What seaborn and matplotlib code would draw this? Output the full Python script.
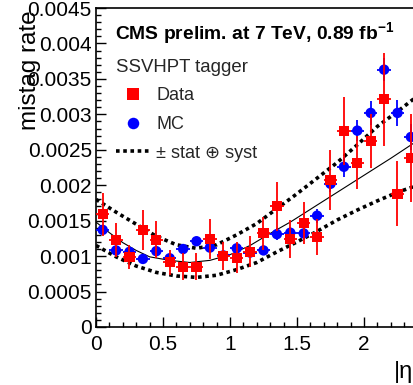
import matplotlib
matplotlib.use("Agg")
import matplotlib.pyplot as plt
from matplotlib.lines import Line2D
from matplotlib.ticker import MultipleLocator
import pandas as pd
import seaborn as sns

# |eta| bin centres (bin width 0.1)
eta = [0.05, 0.15, 0.25, 0.35, 0.45, 0.55, 0.65, 0.75, 0.85, 0.95, 1.05, 1.15,
       1.25, 1.35, 1.45, 1.55, 1.65, 1.75, 1.85, 1.95, 2.05, 2.15, 2.25, 2.35]
eta_halfwidth = 0.05

# measured mistag rate in data
data_rate = [0.00159, 0.00123, 0.00099, 0.00137, 0.00123, 0.00091, 0.00085, 0.00085,
             0.00124, 0.00100, 0.00098, 0.00106, 0.00132, 0.00170, 0.00124, 0.00147,
             0.00127, 0.00207, 0.00277, 0.00232, 0.00263, 0.00321, 0.00188, 0.00239]
data_err = [0.00030, 0.00024, 0.00017, 0.00028, 0.00026, 0.00018, 0.00019, 0.00019,
            0.00028, 0.00020, 0.00022, 0.00022, 0.00023, 0.00034, 0.00027, 0.00030,
            0.00025, 0.00042, 0.00048, 0.00038, 0.00038, 0.00065, 0.00046, 0.00062]

# simulated mistag rate
mc_rate = [0.00137, 0.00108, 0.00106, 0.00096, 0.00107, 0.00097, 0.00110, 0.00121,
           0.00112, 0.00101, 0.00111, 0.00105, 0.00108, 0.00131, 0.00133, 0.00132,
           0.00157, 0.00202, 0.00226, 0.00277, 0.00302, 0.00363, 0.00302, 0.00268]
mc_err = [0.00004, 0.00004, 0.00004, 0.00004, 0.00004, 0.00004, 0.00005, 0.00005,
          0.00005, 0.00005, 0.00005, 0.00006, 0.00007, 0.00008, 0.00008, 0.00009,
          0.00010, 0.00012, 0.00014, 0.00015, 0.00017, 0.00016, 0.00018, 0.00018]

# fitted mistag function
fit_eta = [0.0, 0.1, 0.2, 0.3, 0.4, 0.55, 0.7, 0.85, 1.0, 1.15, 1.3, 1.45, 1.6,
           1.8, 2.0, 2.2, 2.4]
fit_rate = [0.00148, 0.00133, 0.00119, 0.00108, 0.00099, 0.00094, 0.00091, 0.00094,
            0.00102, 0.00115, 0.00132, 0.00148, 0.00166, 0.00190, 0.00214, 0.00238,
            0.00263]

# +/- (stat (+) syst) envelope of the fit
band_eta = [0.0, 0.15, 0.3, 0.45, 0.6, 0.75, 0.9, 1.05, 1.2, 1.35, 1.5, 1.65, 1.8,
            1.95, 2.1, 2.25, 2.4]
band_upper = [0.00180, 0.00162, 0.00145, 0.00128, 0.00116, 0.00111, 0.00116, 0.00130,
              0.00146, 0.00167, 0.00188, 0.00210, 0.00232, 0.00257, 0.00283, 0.00304,
              0.00326]
band_lower = [0.00115, 0.00099, 0.00086, 0.00077, 0.00072, 0.00070, 0.00073, 0.00081,
              0.00091, 0.00106, 0.00120, 0.00135, 0.00151, 0.00165, 0.00178, 0.00190,
              0.00200]

y_ticks = [0, 0.0005, 0.001, 0.0015, 0.002, 0.0025, 0.003, 0.0035, 0.004, 0.0045]
y_tick_labels = ["0", "0.0005", "0.001", "0.0015", "0.002", "0.0025", "0.003",
                 "0.0035", "0.004", "0.0045"]
x_ticks = [0, 0.5, 1, 1.5, 2]
x_tick_labels = ["0", "0.5", "1", "1.5", "2"]

sns.set_theme(style="ticks")
plt.rcParams["font.family"] = ["Liberation Sans", "DejaVu Sans"]
plt.rcParams["mathtext.fontset"] = "custom"
plt.rcParams["mathtext.rm"] = "Liberation Sans"
plt.rcParams["mathtext.bf"] = "Liberation Sans:bold"
plt.rcParams["mathtext.it"] = "Liberation Sans:italic"

df_data = pd.DataFrame({"eta": eta, "rate": data_rate, "err": data_err})
df_mc = pd.DataFrame({"eta": eta, "rate": mc_rate, "err": mc_err})
df_fit = pd.DataFrame({"eta": fit_eta, "rate": fit_rate})
df_band = pd.DataFrame({"eta": band_eta, "up": band_upper, "lo": band_lower})

fig = plt.figure(figsize=(4.14, 3.85), dpi=100)
ax = fig.add_axes([96 / 414, 58 / 385, 321.6 / 414, 319 / 385])

dotted = (0, (1, 1))

# envelope and fit
sns.lineplot(data=df_band, x="eta", y="up", color="black", lw=2.6,
             linestyle=dotted, dash_capstyle="butt", ax=ax, zorder=2)
sns.lineplot(data=df_band, x="eta", y="lo", color="black", lw=2.6,
             linestyle=dotted, dash_capstyle="butt", ax=ax, zorder=2)
sns.lineplot(data=df_fit, x="eta", y="rate", color="black", lw=0.8, ax=ax, zorder=2)

# simulation
ax.errorbar(df_mc["eta"], df_mc["rate"], yerr=df_mc["err"], xerr=eta_halfwidth,
            fmt="none", ecolor="blue", elinewidth=1.3, capsize=0, zorder=3)
sns.scatterplot(data=df_mc, x="eta", y="rate", marker="o", color="blue", s=56,
                edgecolor="none", linewidth=0, legend=False, ax=ax, zorder=4)

# data
ax.errorbar(df_data["eta"], df_data["rate"], yerr=df_data["err"], xerr=eta_halfwidth,
            fmt="none", ecolor="red", elinewidth=1.3, capsize=0, zorder=5)
sns.scatterplot(data=df_data, x="eta", y="rate", marker="s", color="red", s=52,
                edgecolor="none", linewidth=0, legend=False, ax=ax, zorder=6)

ax.set_xlim(0, 2.4)
ax.set_ylim(0, 0.0045)
ax.set_xticks(x_ticks)
ax.set_xticklabels(x_tick_labels)
ax.set_yticks(y_ticks)
ax.set_yticklabels(y_tick_labels)
ax.xaxis.set_minor_locator(MultipleLocator(0.1))
ax.yaxis.set_minor_locator(MultipleLocator(0.0001))
ax.tick_params(which="both", direction="in", colors="black", labelsize=15,
               width=1.0, top=False, right=False)
ax.tick_params(which="major", length=7)
ax.tick_params(which="minor", length=3.5)
ax.tick_params(axis="x", which="major", pad=6)
ax.tick_params(axis="y", which="major", pad=3)
ax.set_xlabel("")
ax.set_ylabel("")
for side in ["left", "bottom", "top", "right"]:
    ax.spines[side].set_color("black")
    ax.spines[side].set_linewidth(1.2)

ax.text(0.059, 0.92, r"CMS prelim. at 7 TeV, 0.89 fb$^{\mathbf{-1}}$",
        transform=ax.transAxes, fontsize=13.9, fontweight="bold",
        ha="left", va="center", color="black")

handles = [
    Line2D([], [], marker="s", color="red", ls="none", ms=8, mew=0),
    Line2D([], [], marker="o", color="blue", ls="none", ms=8.3, mew=0),
    Line2D([], [], color="black", lw=2.6, linestyle=dotted, dash_capstyle="butt"),
]
leg = ax.legend(handles, ["Data", "MC", "\u00b1 stat \u2295 syst"],
                title="SSVHPT tagger", loc="upper left",
                bbox_to_anchor=(0.051, 0.853), frameon=False, fontsize=13,
                title_fontsize=13.4, alignment="left", handlelength=1.83,
                handletextpad=0.39, labelspacing=0.65, borderpad=0.2,
                borderaxespad=0)

fig.text(30.5 / 414, 1 - 10 / 385, "mistag rate", rotation=90, ha="center", va="top",
         fontsize=17.5, color="black")
fig.text(394 / 414, 1 - 372 / 385, "|\u03b7|", ha="left", va="center",
         fontsize=17, color="black")

fig.savefig("out.png", dpi=100)
